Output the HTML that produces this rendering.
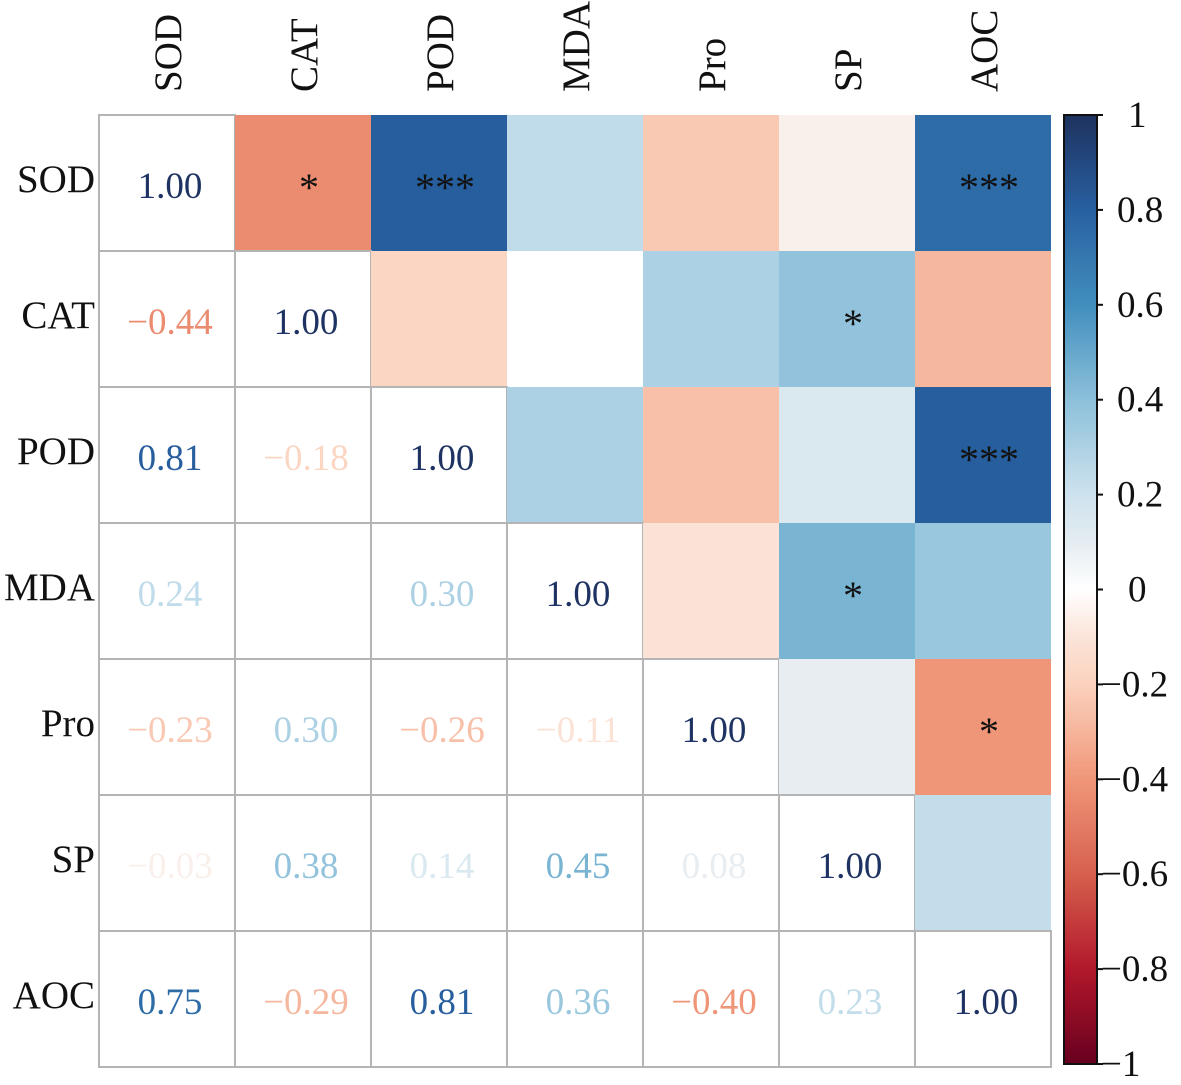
<!DOCTYPE html>
<html><head><meta charset="utf-8">
<style>
html,body{margin:0;padding:0;background:#fff;}
svg text{font-family:"Liberation Serif",serif;}
</style></head>
<body>
<svg id="chart" width="1181" height="1080" viewBox="0 0 1181 1080" xmlns="http://www.w3.org/2000/svg">
<defs><linearGradient id="cbgrad" x1="0" y1="1" x2="0" y2="0"></linearGradient></defs>
<g id="cells"></g>
<g id="labels"></g>
<g id="cbar"></g>
</svg>
<script>
const variables = ["SOD","CAT","POD","MDA","Pro","SP","AOC"];
const corrSOD = [1.00,-0.44,0.81,0.24,-0.23,-0.03,0.75];
const corrCAT = [-0.44,1.00,-0.18,0.00,0.30,0.38,-0.29];
const corrPOD = [0.81,-0.18,1.00,0.30,-0.26,0.14,0.81];
const corrMDA = [0.24,0.00,0.30,1.00,-0.11,0.45,0.36];
const corrPro = [-0.23,0.30,-0.26,-0.11,1.00,0.08,-0.40];
const corrSP  = [-0.03,0.38,0.14,0.45,0.08,1.00,0.23];
const corrAOC = [0.75,-0.29,0.81,0.36,-0.40,0.23,1.00];
const sigSOD = ["","*","***","","","","***"];
const sigCAT = ["*","","","","","*",""];
const sigPOD = ["***","","","","","","***"];
const sigMDA = ["","","","","","*",""];
const sigPro = ["","","","","","","*"];
const sigSP  = ["","*","","*","","",""];
const sigAOC = ["***","","***","","*","",""];
const cbTicks = [1,0.8,0.6,0.4,0.2,0,-0.2,-0.4,-0.6,-0.8,-1];
const cbTickLabels = ["1","0.8","0.6","0.4","0.2","0","\u22120.2","\u22120.4","\u22120.6","\u22120.8","\u22121"];

const matrix=[corrSOD,corrCAT,corrPOD,corrMDA,corrPro,corrSP,corrAOC];
const sig=[sigSOD,sigCAT,sigPOD,sigMDA,sigPro,sigSP,sigAOC];
const NS='http://www.w3.org/2000/svg';
const x0=99,y0=115,cell=136;
const rdbu=[[103,0,31],[178,24,43],[214,96,77],[240,150,120],[251,210,190],[250,245,243],[205,226,238],[140,192,218],[65,142,190],[40,96,160],[30,50,95]];
function color(v){
  let t=(Math.max(-1,Math.min(1,v))+1)/2*10;
  let i=Math.min(9,Math.floor(t)),f=t-i;
  const a=rdbu[i],b=rdbu[i+1];
  let c=a.map((q,k)=>Math.round(q+(b[k]-q)*f));
  if(Math.abs(v)<0.02)c=[255,255,255];
  return `rgb(${c[0]},${c[1]},${c[2]})`;
}
function mk(tag,attrs,parent){const e=document.createElementNS(NS,tag);for(const k in attrs)e.setAttribute(k,attrs[k]);parent.appendChild(e);return e;}
function fmt(v){return (v<0?'\u2212':'')+Math.abs(v).toFixed(2);}
const cells=document.getElementById('cells');
for(let r=0;r<7;r++)for(let c=0;c<7;c++){
  const v=matrix[r][c],x=x0+c*cell,y=y0+r*cell;
  const upper=c>r;
  const rect=mk('rect',{x:x,y:y,width:cell,height:cell,fill:upper?color(v):'#fff',stroke:upper?'none':'#b4b4b4','stroke-width':2},cells);
  
  
  if(c<=r){
    if(Math.abs(v)<0.02)continue;
    const t=mk('text',{x:x+cell/2+3,y:y+cell/2+15,'text-anchor':'middle','font-size':37,fill:c===r?'#1f3363':color(v)},cells);
    t.textContent=fmt(v);
    
    
  } else if(sig[r][c]){
    const t=mk('text',{x:x+cell/2+6,y:y+cell/2+18,'text-anchor':'middle','font-size':40,fill:'#111'},cells);
    t.textContent=sig[r][c];
    
    
  }
}
const labels=document.getElementById('labels');
variables.forEach((n,i)=>{
  const t=mk('text',{x:95,y:y0+i*cell+cell/2+9,'text-anchor':'end','font-size':39,fill:'#111'},labels);
  t.textContent=n;
  
  
  const cx=x0+i*cell+cell/2+14;
  const u=mk('text',{x:0,y:0,'text-anchor':'start','font-size':39,fill:'#111',transform:`translate(${cx},92) rotate(-90)`},labels);
  u.textContent=n;
  
  
});
const cbx=1064,cbw=33,cbt=115,cbb=1064;
const g=document.getElementById('cbgrad');
for(let k=0;k<=20;k++){const v=-1+k/10;mk('stop',{offset:(k/20),'stop-color':color(v===0?0.0001:v)},g);}
const cbar=document.getElementById('cbar');
const cb=mk('rect',{x:cbx,y:cbt,width:cbw,height:cbb-cbt,fill:'url(#cbgrad)',stroke:'#111','stroke-width':2},cbar);


function cy(v){return cbb-(v+1)/2*(cbb-cbt);}
cbTicks.forEach((v,i)=>{
  const y=cy(v);
  mk('line',{x1:cbx+cbw,x2:cbx+cbw+6,y1:y,y2:y,stroke:'#111','stroke-width':2},cbar);
  const lab=cbTickLabels[i];
  const xx=v<0?1101:(lab.length===1?1128:1117);
  const t=mk('text',{x:xx,y:y+12,'font-size':37,fill:'#111'},cbar);
  t.textContent=lab;
  
  
});
</script>
</body></html>
